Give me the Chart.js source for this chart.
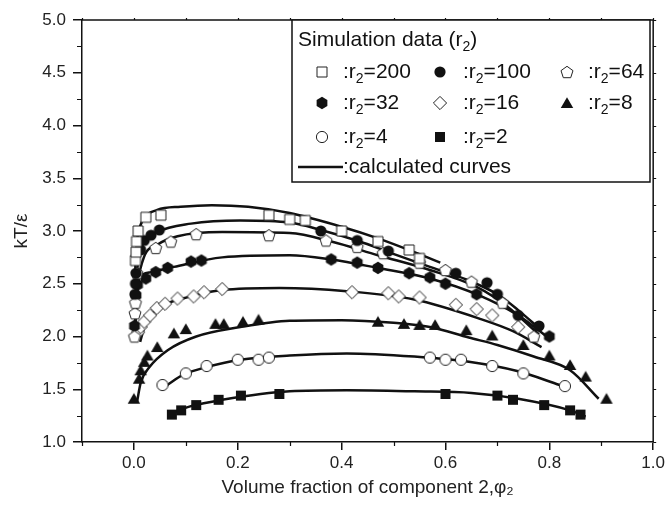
<!DOCTYPE html>
<html>
<head>
<meta charset="utf-8">
<script src="https://cdn.jsdelivr.net/npm/chart.js@4"></script>
<style>
  body { margin: 0; background: #fff; }
  canvas { display: block; }
</style>
</head>
<body>
<canvas id="phaseChart" width="668" height="508"></canvas>
<script>
// Simulation data, [phi2, kT/eps]
const sim200 = [[0.003, 2.72], [0.004, 2.8], [0.005, 2.9], [0.008, 3.0], [0.023, 3.13], [0.052, 3.15], [0.26, 3.15], [0.3, 3.11], [0.33, 3.1], [0.4, 3.0], [0.47, 2.9], [0.53, 2.82], [0.55, 2.74]];
const sim100 = [[0.002, 2.4], [0.003, 2.5], [0.004, 2.6], [0.013, 2.82], [0.02, 2.91], [0.033, 2.96], [0.049, 3.01], [0.36, 3.0], [0.43, 2.91], [0.49, 2.81], [0.62, 2.6], [0.68, 2.51], [0.7, 2.4], [0.74, 2.2], [0.78, 2.1]];
const sim64 = [[0.001, 2.0], [0.002, 2.22], [0.003, 2.32], [0.006, 2.6], [0.042, 2.84], [0.071, 2.9], [0.12, 2.97], [0.26, 2.96], [0.37, 2.91], [0.43, 2.85], [0.48, 2.79], [0.55, 2.7], [0.6, 2.63], [0.65, 2.52], [0.71, 2.32], [0.77, 2.0]];
const sim32 = [[0.001, 2.1], [0.004, 2.39], [0.007, 2.49], [0.023, 2.55], [0.042, 2.61], [0.065, 2.65], [0.11, 2.71], [0.13, 2.72], [0.38, 2.73], [0.43, 2.7], [0.47, 2.65], [0.53, 2.6], [0.57, 2.56], [0.6, 2.5], [0.66, 2.4], [0.8, 2.0]];
const sim16 = [[0.008, 2.04], [0.013, 2.09], [0.02, 2.14], [0.031, 2.2], [0.044, 2.27], [0.06, 2.31], [0.084, 2.36], [0.115, 2.38], [0.135, 2.42], [0.17, 2.45], [0.42, 2.42], [0.49, 2.41], [0.51, 2.38], [0.55, 2.37], [0.62, 2.3], [0.66, 2.26], [0.69, 2.2], [0.74, 2.09]];
const sim8 = [[0.0, 1.41], [0.01, 1.6], [0.013, 1.68], [0.02, 1.76], [0.026, 1.82], [0.045, 1.9], [0.077, 2.03], [0.1, 2.07], [0.157, 2.12], [0.173, 2.12], [0.21, 2.14], [0.24, 2.16], [0.47, 2.14], [0.52, 2.12], [0.55, 2.11], [0.58, 2.11], [0.64, 2.06], [0.69, 2.01], [0.75, 1.92], [0.8, 1.82], [0.84, 1.73], [0.87, 1.62], [0.91, 1.41]];
const sim4 = [[0.055, 1.54], [0.1, 1.65], [0.14, 1.72], [0.2, 1.78], [0.24, 1.78], [0.26, 1.8], [0.57, 1.8], [0.6, 1.78], [0.63, 1.78], [0.69, 1.72], [0.75, 1.65], [0.83, 1.53]];
const sim2 = [[0.073, 1.26], [0.091, 1.3], [0.12, 1.35], [0.163, 1.4], [0.206, 1.44], [0.28, 1.455], [0.6, 1.455], [0.7, 1.44], [0.73, 1.4], [0.79, 1.35], [0.84, 1.3], [0.86, 1.26]];

// Calculated curves
const calc200 = [[0.002, 2.55], [0.004, 2.8], [0.008, 2.97], [0.017, 3.1], [0.045, 3.2], [0.09, 3.23], [0.15, 3.245], [0.22, 3.23], [0.3, 3.17], [0.4, 3.04], [0.47, 2.93], [0.54, 2.8], [0.59, 2.7]];
const calc100 = [[0.002, 2.2], [0.005, 2.55], [0.013, 2.82], [0.045, 2.99], [0.11, 3.07], [0.205, 3.1], [0.3, 3.08], [0.36, 3.01], [0.435, 2.9], [0.49, 2.8], [0.57, 2.66], [0.64, 2.54], [0.7, 2.4], [0.74, 2.25], [0.78, 2.08]];
const calc64 = [[0.002, 2.0], [0.006, 2.4], [0.017, 2.72], [0.045, 2.87], [0.084, 2.95], [0.17, 2.99], [0.3, 2.98], [0.38, 2.9], [0.47, 2.77], [0.57, 2.63], [0.66, 2.47], [0.72, 2.28], [0.78, 2.02]];
const calc32 = [[0.002, 2.1], [0.004, 2.4], [0.007, 2.52], [0.033, 2.61], [0.077, 2.66], [0.17, 2.75], [0.3, 2.77], [0.38, 2.73], [0.47, 2.65], [0.57, 2.55], [0.665, 2.39], [0.74, 2.2], [0.8, 1.98]];
const calc16 = [[0.012, 1.95], [0.023, 2.13], [0.052, 2.28], [0.11, 2.38], [0.17, 2.44], [0.28, 2.46], [0.41, 2.43], [0.54, 2.35], [0.665, 2.17], [0.73, 2.05], [0.785, 1.9]];
const calc8 = [[0.006, 1.38], [0.013, 1.56], [0.03, 1.71], [0.065, 1.87], [0.12, 2.0], [0.205, 2.09], [0.3, 2.15], [0.4, 2.155], [0.5, 2.13], [0.57, 2.09], [0.645, 1.99], [0.7, 1.92], [0.77, 1.81], [0.84, 1.68], [0.895, 1.41]];
const calc4 = [[0.061, 1.53], [0.096, 1.64], [0.14, 1.71], [0.205, 1.78], [0.3, 1.82], [0.41, 1.84], [0.54, 1.81], [0.645, 1.76], [0.74, 1.67], [0.82, 1.54]];
const calc2 = [[0.071, 1.27], [0.11, 1.34], [0.17, 1.4], [0.3, 1.48], [0.41, 1.49], [0.54, 1.48], [0.65, 1.465], [0.74, 1.41], [0.84, 1.3], [0.87, 1.24]];

const r2Labels = ["200", "100", "64", "32", "16", "8", "4", "2"];
const xTicks = [0, 0.2, 0.4, 0.6, 0.8, 1.0];
const xMinor = [-0.1, 0.1, 0.3, 0.5, 0.7, 0.9];
const yTicks = [1.0, 1.5, 2.0, 2.5, 3.0, 3.5, 4.0, 4.5, 5.0];
const yMinor = [1.25, 1.75, 2.25, 2.75, 3.25, 3.75, 4.25, 4.75];

const FONT = "'Liberation Sans', Arial, Helvetica, sans-serif";

// marker images (Chart.js has no pentagon / hexagon)
function makeMarker(shape, filled) {
  const c = document.createElement("canvas");
  c.width = 18; c.height = 18;
  const g = c.getContext("2d");
  const cx = 9, cy = 9;
  g.beginPath();
  if (shape === "circle") {
    g.arc(cx, cy, 5.6, 0, Math.PI * 2);
  } else if (shape === "square") {
    g.rect(cx - 5, cy - 5, 10, 10);
  } else {
    const n = { triangle: 3, diamond: 4, pentagon: 5, hexagon: 6 }[shape];
    const r = { triangle: 7.2, diamond: 6.6, pentagon: 6.3, hexagon: 6.2 }[shape];
    for (let i = 0; i < n; i++) {
      const a = -Math.PI / 2 + (i * 2 * Math.PI) / n;
      const px = cx + r * Math.cos(a);
      const py = cy + r * Math.sin(a) + (shape === "triangle" ? 1.5 : shape === "pentagon" ? 0.6 : 0);
      if (i === 0) g.moveTo(px, py); else g.lineTo(px, py);
    }
    g.closePath();
  }
  if (filled) {
    g.fillStyle = "#111";
    g.fill();
  } else {
    g.fillStyle = "#fff";
    g.fill();
    g.lineWidth = 1;
    g.strokeStyle = "#222";
    g.stroke();
  }
  return c;
}

const markers = [
  makeMarker("square", false),
  makeMarker("circle", true),
  makeMarker("pentagon", false),
  makeMarker("hexagon", true),
  makeMarker("diamond", false),
  makeMarker("triangle", true),
  makeMarker("circle", false),
  makeMarker("square", true),
];

const simSets = [sim200, sim100, sim64, sim32, sim16, sim8, sim4, sim2];
const calcSets = [calc200, calc100, calc64, calc32, calc16, calc8, calc4, calc2];
const toXY = (arr) => arr.map((p) => ({ x: p[0], y: p[1] }));

const datasets = [];
calcSets.forEach(function (c, i) {
  datasets.push({
    type: "line",
    label: "calc r2=" + r2Labels[i],
    data: toXY(c),
    borderColor: "#111",
    borderWidth: 2.5,
    pointRadius: 0,
    fill: false,
    cubicInterpolationMode: "monotone",
    order: 2,
  });
});
simSets.forEach(function (s, i) {
  datasets.push({
    type: "scatter",
    label: "r2=" + r2Labels[i],
    data: toXY(s),
    pointStyle: markers[i],
    pointRadius: 6,
    order: 1,
  });
});

// frame, minor ticks and the boxed legend
const framePlugin = {
  id: "frame",
  afterDraw(chart) {
    const { ctx, chartArea: a, scales } = chart;
    const x = scales.x, y = scales.y;
    ctx.save();
    ctx.strokeStyle = "#111";
    ctx.lineWidth = 1.5;
    ctx.beginPath();
    ctx.moveTo(a.left, a.top); ctx.lineTo(a.right, a.top); ctx.lineTo(a.right, a.bottom);
    ctx.stroke();
    ctx.lineWidth = 1.2;
    ctx.beginPath();
    xMinor.forEach(function (v) {
      const px = Math.round(x.getPixelForValue(v)) + 0.5;
      ctx.moveTo(px, a.bottom); ctx.lineTo(px, a.bottom + 4);
    });
    xTicks.concat(xMinor).forEach(function (v) {
      const px = Math.round(x.getPixelForValue(v)) + 0.5;
      ctx.moveTo(px, a.top); ctx.lineTo(px, a.top - 2);
    });
    yMinor.forEach(function (v) {
      const py = Math.round(y.getPixelForValue(v)) + 0.5;
      ctx.moveTo(a.left, py); ctx.lineTo(a.left - 5, py);
    });
    yTicks.concat(yMinor).forEach(function (v) {
      const py = Math.round(y.getPixelForValue(v)) + 0.5;
      ctx.moveTo(a.right, py); ctx.lineTo(a.right + 3, py);
    });
    ctx.stroke();

    // legend box
    const L = 292, T = 20, R = 650, B = 182;
    ctx.fillStyle = "#fff";
    ctx.fillRect(L, T, R - L, B - T);
    ctx.lineWidth = 1.5;
    ctx.strokeRect(L, T, R - L, B - T);

    ctx.fillStyle = "#111";
    ctx.textBaseline = "middle";
    function subText(pre, post, tx, ty) {
      ctx.font = "21px " + FONT;
      ctx.fillText(pre, tx, ty);
      let w = ctx.measureText(pre).width;
      ctx.font = "14px " + FONT;
      ctx.fillText("2", tx + w, ty + 7);
      w += ctx.measureText("2").width;
      ctx.font = "21px " + FONT;
      ctx.fillText(post, tx + w, ty);
    }
    subText("Simulation data (r", ")", 298, 40);
    const rowsY = [72, 103, 137];
    const markX = [322, 440, 567];
    const textX = [343, 463, 588];
    r2Labels.forEach(function (lab, i) {
      const row = Math.floor(i / 3), col = i % 3;
      const m = markers[i];
      ctx.drawImage(m, markX[col] - m.width / 2, rowsY[row] - m.height / 2);
      subText(":r", "=" + lab, textX[col], rowsY[row]);
    });
    ctx.lineWidth = 2.5;
    ctx.beginPath();
    ctx.moveTo(298, 167); ctx.lineTo(343, 167);
    ctx.stroke();
    ctx.font = "21px " + FONT;
    ctx.fillText(":calculated curves", 343, 167);
    ctx.restore();
  },
};

new Chart(document.getElementById("phaseChart").getContext("2d"), {
  type: "scatter",
  data: { datasets: datasets },
  plugins: [framePlugin],
  options: {
    responsive: false,
    animation: false,
    layout: { padding: { top: 20, right: 13, left: 0, bottom: 0 } },
    plugins: { legend: { display: false }, tooltip: { enabled: false } },
    scales: {
      x: {
        type: "linear",
        min: -0.1,
        max: 1.0,
        afterBuildTicks: (s) => { s.ticks = xTicks.map((v) => ({ value: v })); },
        afterFit: (s) => { s.height = 66; },
        ticks: {
          color: "#222",
          font: { family: FONT, size: 17 },
          padding: 3,
          maxRotation: 0,
          callback: (v) => Number(v).toFixed(1),
        },
        grid: { drawOnChartArea: false, drawTicks: true, tickLength: 8, color: "#111", lineWidth: 1.5 },
        border: { display: true, color: "#111", width: 1.5 },
        title: {
          display: true,
          text: "Volume fraction of component 2,\u03c6\u2082",
          color: "#222",
          font: { family: FONT, size: 19 },
          padding: { top: 0, bottom: 9 },
        },
      },
      y: {
        type: "linear",
        min: 1.0,
        max: 5.0,
        afterBuildTicks: (s) => { s.ticks = yTicks.map((v) => ({ value: v })); },
        afterFit: (s) => { s.width = 82; },
        ticks: {
          color: "#222",
          font: { family: FONT, size: 17 },
          padding: 7,
          callback: (v) => Number(v).toFixed(1),
        },
        grid: { drawOnChartArea: false, drawTicks: true, tickLength: 9, color: "#111", lineWidth: 1.5 },
        border: { display: true, color: "#111", width: 1.5 },
        title: {
          display: true,
          text: "kT/\u03b5",
          color: "#222",
          font: { family: FONT, size: 19 },
          padding: { top: 10, bottom: 0 },
        },
      },
    },
  },
});
</script>
</body>
</html>
